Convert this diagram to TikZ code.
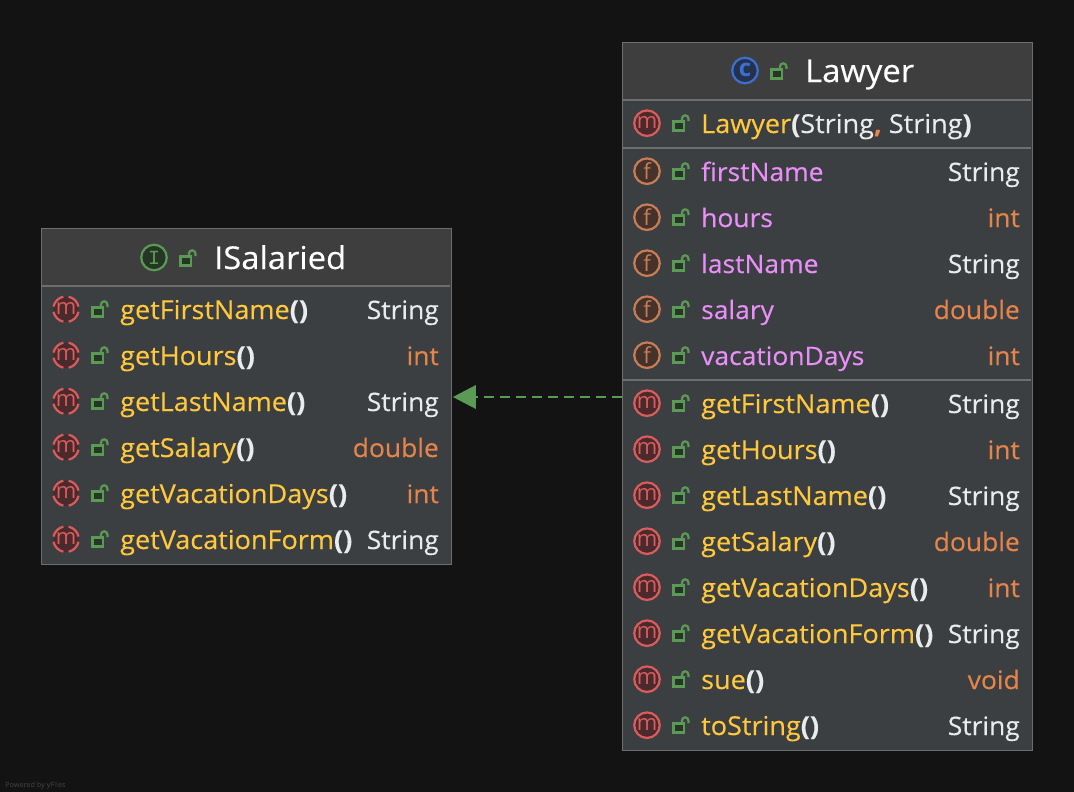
\documentclass[tikz,border=0pt]{standalone}
\usepackage{fontspec}
\setmainfont{Open Sans}[FakeStretch=1.04,FakeBold=0.25,BoldFont={Open Sans Bold},BoldFeatures={FakeStretch=1.04}]
\newfontfamily\monoic{Liberation Mono}
\newfontfamily\iconf{Open Sans}
\definecolor{bgc}{HTML}{131314}
\definecolor{bodyc}{HTML}{3C3F41}
\definecolor{headc}{HTML}{3E3E3E}
\definecolor{edgec}{HTML}{6E6E6E}
\definecolor{yel}{HTML}{FFC83D}
\definecolor{pur}{HTML}{E88FF8}
\definecolor{ora}{HTML}{E5854B}
\definecolor{whi}{HTML}{E9EBED}
\definecolor{grn}{HTML}{5B9A55}
\definecolor{grnd}{HTML}{253627}
\definecolor{redc}{HTML}{DB5C5C}
\definecolor{redd}{HTML}{4A2A2C}
\definecolor{orc}{HTML}{C77D55}
\definecolor{ord}{HTML}{45322B}
\definecolor{bluc}{HTML}{3D6FD0}
\definecolor{blud}{HTML}{25324D}
\tikzset{
  x=1pt,y=-1pt,
  classbox/.style={draw=edgec,line width=1.4pt,fill=bodyc,minimum width=410pt,inner sep=0pt,anchor=north west},
  sep/.style={draw=edgec,line width=2pt},
  txt/.style={inner sep=0pt,font=\fontsize{26}{26}\selectfont,anchor=base west},
  typ/.style={inner sep=0pt,font=\fontsize{25.4}{26}\selectfont,anchor=base east},
  ttl/.style={inner sep=0pt,font=\fontsize{31.5}{32}\selectfont,anchor=base west,text=white},
  ico/.style={circle,inner sep=0pt,minimum size=25.5pt,line width=2.2pt,font=\iconf\fontsize{22}{22}\selectfont},
}
% lock icon
\newcommand{\lockic}[2]{%
  \draw[grn,line width=2.2pt,fill=grnd] (#1-7.5,#2-2.5) rectangle (#1+3,#2+6.5);
  \draw[grn,line width=2.2pt] (#1+1,#2-2.5) -- (#1+1,#2-5.5) arc[start angle=180,end angle=0,radius=3.2pt] -- (#1+7.4,#2-3);
}
\newcommand{\pp}{\textcolor{whi}{\textbf{()}}}
\newcommand{\fld}[1]{\textcolor{pur}{\fontsize{25.4}{26}\selectfont #1}}
\newcommand{\rowic}[4]{%
  \ifcase#4\relax
    \node[ico,draw=redc,fill=redd,text=redc] (ic#3) at (#1,#2-0.8) {\raisebox{1pt}{m}};
  \or
    \node[ico,draw=orc,fill=ord,text=orc] (ic#3) at (#1,#2-0.8) {f};
  \or
    \node[ico,draw=none,fill=redd,text=redc] (ic#3) at (#1,#2-0.8) {\raisebox{1pt}{m}};
    \foreach \a in {12,102,192,282}{\draw[redc,line width=2.2pt] (#1,#2-0.8) ++(\a:12.75pt) arc[start angle=\a,end angle=\a+66,radius=12.75pt];}
  \fi
}
\newcommand{\rowtxt}[7]{%
  \rowic{#2}{#3}{#1}{#4}
  \lockic{#2+34}{#3}
  \node[txt,text=yel] (n#1) at (#2+54,#3+9) {#5};
  \node[typ,text=#7] (t#1) at (#2+373,#3+9) {#6};
}
\begin{document}
\begin{tikzpicture}
\useasboundingbox (0,0) rectangle (1074,792);
\fill[bgc] (0,0) rectangle (1074,792);
\node[inner sep=0pt,anchor=base west,text=white!14!bgc,font=\fontsize{7}{7}\selectfont] (powered) at (5,787) {Powered by yFiles};

% ISalaried
\node[classbox,minimum height=336pt] (isal) at (41,228) {};
\fill[headc] (42,229) rectangle (450,285);
\draw[sep] (42,286) -- (450,286);
\node[ico,draw=grn,fill=grnd,text=grn] (icI) at (154,257.5) {\monoic\fontsize{20}{20}\selectfont I};
\lockic{188}{259}
\node[ttl] (tI) at (214,269) {ISalaried};
\rowtxt{a1}{66}{310}{2}{getFirstName\pp}{String}{whi}
\rowtxt{a2}{66}{356}{2}{getHours\pp}{int}{ora}
\rowtxt{a3}{66}{402}{2}{getLastName\pp}{String}{whi}
\rowtxt{a4}{66}{448}{2}{getSalary\pp}{double}{ora}
\rowtxt{a5}{66}{494}{2}{getVacationDays\pp}{int}{ora}
\rowtxt{a6}{66}{540}{2}{getVacationForm\pp}{String}{whi}

% Lawyer
\node[classbox,minimum height=708pt] (law) at (622,42) {};
\fill[headc] (623,43) rectangle (1031,99);
\draw[sep] (623,100) -- (1031,100);
\draw[sep] (623,148) -- (1031,148);
\draw[sep] (623,380) -- (1031,380);
\node[ico,draw=bluc,fill=blud,text=bluc,font=\iconf\bfseries\fontsize{24}{24}\selectfont] (icC) at (745,70.5) {\raisebox{1.5pt}{c}};
\lockic{779}{72}
\node[ttl] (tL) at (805,82) {Lawyer};
\rowtxt{b0}{647}{124}{0}{Lawyer\textcolor{whi}{\textbf{(}String\textcolor{ora}{\textbf{,}} String\textbf{)}}}{}{whi}
\rowtxt{b1}{647}{172}{1}{\fld{firstName}}{String}{whi}
\rowtxt{b2}{647}{218}{1}{\fld{hours}}{int}{ora}
\rowtxt{b3}{647}{264}{1}{\fld{lastName}}{String}{whi}
\rowtxt{b4}{647}{310}{1}{\fld{salary}}{double}{ora}
\rowtxt{b5}{647}{356}{1}{\fld{vacationDays}}{int}{ora}
\rowtxt{b6}{647}{404}{0}{getFirstName\pp}{String}{whi}
\rowtxt{b7}{647}{450}{0}{getHours\pp}{int}{ora}
\rowtxt{b8}{647}{496}{0}{getLastName\pp}{String}{whi}
\rowtxt{b9}{647}{542}{0}{getSalary\pp}{double}{ora}
\rowtxt{b10}{647}{588}{0}{getVacationDays\pp}{int}{ora}
\rowtxt{b11}{647}{634}{0}{getVacationForm\pp}{String}{whi}
\rowtxt{b12}{647}{680}{0}{sue\pp}{void}{ora}
\rowtxt{b13}{647}{726}{0}{toString\pp}{String}{whi}

% Connector
\coordinate (from) at (law.west |- 0,397);
\coordinate (to) at ([xshift=0.5pt]isal.east |- 0,397);
\draw[grn,line width=2.4pt,dash pattern=on 10pt off 6pt] (from) -- ([xshift=23pt]to);
\fill[grn] (to) -- ++(23,-12) -- ++(0,24) -- cycle;
\end{tikzpicture}
\end{document}
